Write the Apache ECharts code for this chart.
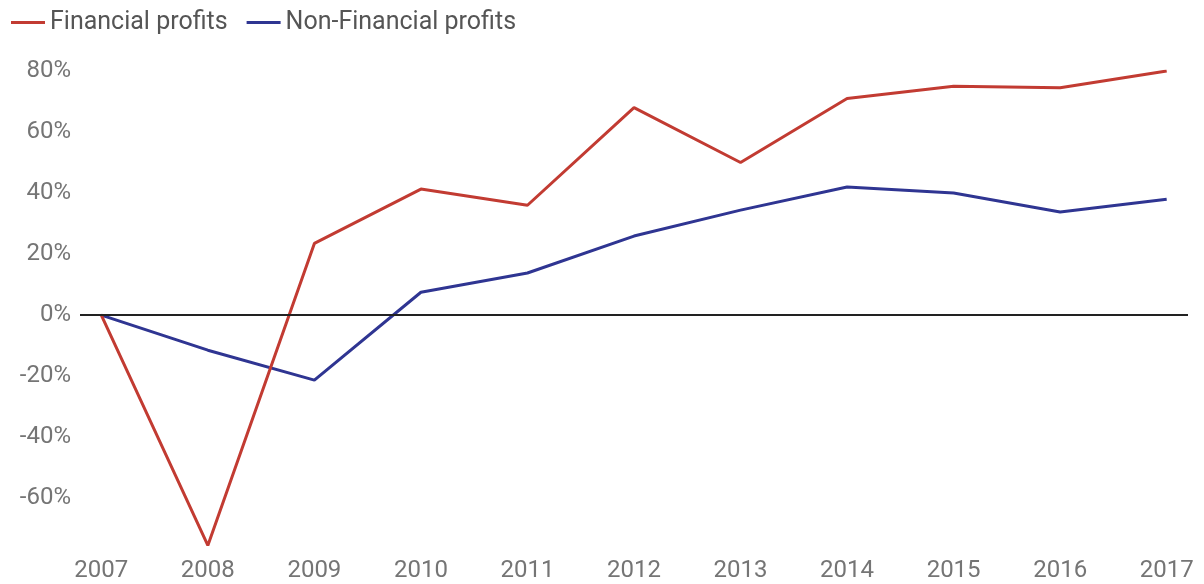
<!DOCTYPE html>
<html>
<head>
<meta charset="utf-8">
<script src="https://cdn.jsdelivr.net/npm/echarts@6/dist/echarts.min.js"></script>
<style>html,body{margin:0;padding:0;background:#fff;}#c{width:1204px;height:584px;}</style>
</head>
<body>
<div id="c"></div>
<script>
var years = [2007, 2008, 2009, 2010, 2011, 2012, 2013, 2014, 2015, 2016, 2017];
var financial = [0, -75.5, 23.5, 41.3, 36, 68, 50, 71, 75, 74.5, 80];
var nonFinancial = [0, -11.5, -21.3, 7.5, 13.8, 25.9, 34.4, 42, 40, 33.8, 38];
var yTicks = [-60, -40, -20, 0, 20, 40, 60, 80];

function pairs(vals) { return years.map(function (y, i) { return [y, vals[i]]; }); }

var labelColor = '#757575';
var font = 'Roboto';
var chart = echarts.init(document.getElementById('c'));
chart.setOption({
  animation: false,
  textStyle: { fontFamily: font },
  legend: {
    left: 6, top: 5,
    icon: 'rect', itemWidth: 34, itemHeight: 3, itemGap: 19,
    textStyle: { fontSize: 25, color: '#555', fontFamily: font },
    data: ['Financial profits', 'Non-Financial profits']
  },
  grid: { left: 80, right: 16, top: 71, bottom: 37, containLabel: false },
  xAxis: {
    type: 'value', min: 2006.8, max: 2017.2,
    axisLine: { show: false }, axisTick: { show: false }, splitLine: { show: false },
    axisLabel: { customValues: years, color: labelColor, fontSize: 24, fontFamily: font, margin: 12,
      formatter: function (v) { return String(Math.round(v)); } }
  },
  yAxis: {
    type: 'value', min: -76, max: 80,
    axisLine: { show: false }, axisTick: { show: false }, splitLine: { show: false },
    axisLabel: { customValues: yTicks, color: labelColor, fontSize: 24, fontFamily: font, margin: 9,
      formatter: function (v) { return v + '%'; } }
  },
  series: [
    {
      name: 'Financial profits', type: 'line', data: pairs(financial),
      showSymbol: false, symbol: 'none',
      lineStyle: { color: '#c23b32', width: 3 }, itemStyle: { color: '#c23b32' },
      markLine: {
        silent: true, symbol: 'none', label: { show: false },
        lineStyle: { color: '#222', width: 2, type: 'solid' },
        data: [{ yAxis: 0 }]
      },
      z: 3
    },
    {
      name: 'Non-Financial profits', type: 'line', data: pairs(nonFinancial),
      showSymbol: false, symbol: 'none',
      lineStyle: { color: '#2f3592', width: 3 }, itemStyle: { color: '#2f3592' },
      z: 2
    }
  ]
});
</script>
</body>
</html>
